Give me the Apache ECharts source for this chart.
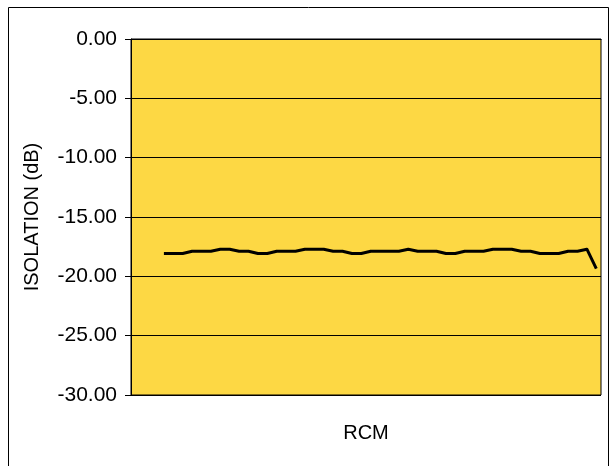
<!DOCTYPE html>
<html>
<head>
<meta charset="utf-8">
<script src="https://cdn.jsdelivr.net/npm/echarts@6/dist/echarts.min.js"></script>
<style>
html,body{margin:0;padding:0;background:#fff;}
#chart{width:611px;height:466px;}
</style>
</head>
<body>
<div id="chart"></div>
<script>
// Category slots along the RCM axis (first three are empty)
const categories = Array.from({length: 50}, (_, i) => String(i + 1));
// Isolation values (dB); null where no data
const isolation = [
  null, null, null,
  -18.08, -18.08, -18.08, -17.88, -17.88, -17.88, -17.71, -17.71, -17.88, -17.88,
  -18.08, -18.08, -17.88, -17.88, -17.88, -17.71, -17.71, -17.71, -17.88, -17.88,
  -18.08, -18.08, -17.88, -17.88, -17.88, -17.88, -17.71, -17.88, -17.88, -17.88,
  -18.08, -18.08, -17.88, -17.88, -17.88, -17.71, -17.71, -17.71, -17.88, -17.88,
  -18.08, -18.08, -18.08, -17.88, -17.88, -17.71, -19.35
];
const yTicks = { min: -30, max: 0, interval: 5 };

const FONT = 'Liberation Sans, Arial, sans-serif';
const chart = echarts.init(document.getElementById('chart'), null, {renderer: 'canvas'});
chart.setOption({
  animation: false,
  backgroundColor: '#ffffff',
  textStyle: { fontFamily: FONT },
  graphic: [{
    type: 'rect',
    shape: { x: 8.5, y: 7.5, width: 600, height: 480 },
    style: { fill: 'none', stroke: '#000', lineWidth: 1 },
    silent: true,
    z: -10
  }],
  grid: {
    left: 131, top: 39, width: 470, height: 356,
    show: true, backgroundColor: '#FDD844', borderColor: '#000', borderWidth: 1
  },
  xAxis: {
    type: 'category',
    data: categories,
    boundaryGap: true,
    name: 'RCM',
    nameLocation: 'middle',
    nameGap: 28,
    nameTextStyle: { fontSize: 20, color: '#000', fontFamily: FONT },
    axisLine: { show: true, lineStyle: { color: '#000', width: 1 } },
    axisTick: { show: false },
    axisLabel: { show: false },
    splitLine: { show: false }
  },
  yAxis: {
    type: 'value',
    min: yTicks.min, max: yTicks.max, interval: yTicks.interval,
    name: 'ISOLATION (dB)',
    nameLocation: 'middle',
    nameGap: 89,
    nameTextStyle: { fontSize: 20, color: '#000', fontFamily: FONT },
    axisLine: { show: true, lineStyle: { color: '#000', width: 1 } },
    axisTick: { show: true, length: 6, lineStyle: { color: '#000' } },
    axisLabel: {
      fontSize: 21, color: '#000', margin: 14,
      fontFamily: FONT,
      formatter: v => v.toFixed(2)
    },
    splitLine: { show: true, lineStyle: { color: '#000', width: 1 } }
  },
  series: [{
    type: 'line',
    data: isolation,
    showSymbol: false,
    symbol: 'none',
    connectNulls: false,
    lineStyle: { color: '#000', width: 3, join: 'round' },
    z: 5
  }]
});
</script>
</body>
</html>
